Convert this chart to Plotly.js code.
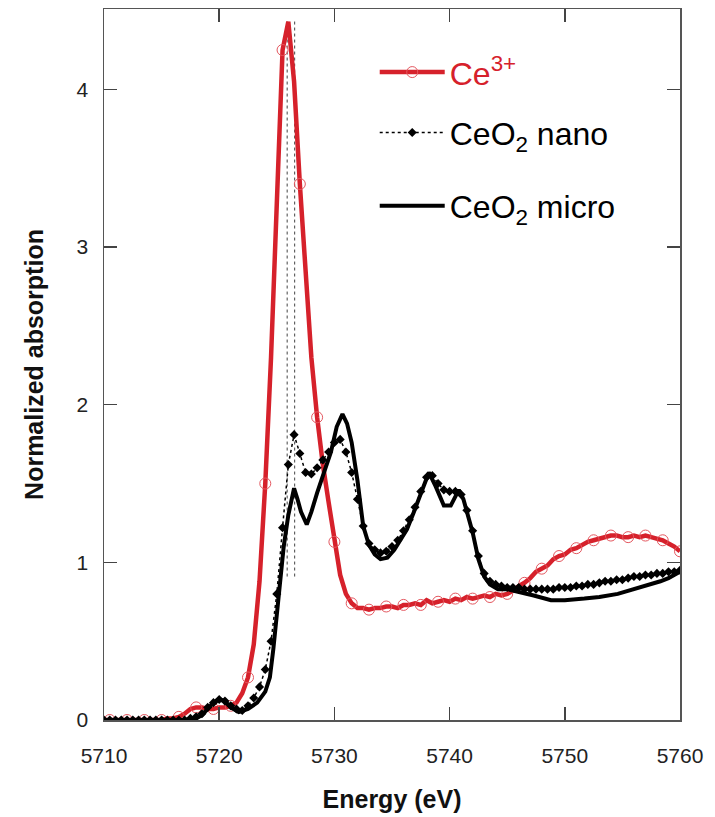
<!DOCTYPE html>
<html>
<head>
<meta charset="utf-8">
<script src="https://cdn.plot.ly/plotly-3.0.1.min.js"></script>
<style>html,body{margin:0;padding:0;background:#fff;}#chart{width:715px;height:817px;}</style>
</head>
<body>
<div id="chart"></div>
<script>
// Ce3+ reference (0.5 eV steps from 5710)
const energyCe = [];
for (let i = 0; i <= 100; i++) energyCe.push(5710 + 0.5 * i);
const ce3 = [
  0.00,0.00,0.00,0.00,0.00,0.00,0.00,0.00,0.00,0.00,
  0.00,0.01,0.01,0.02,0.04,0.07,0.08,0.08,0.07,0.07,
  0.08,0.08,0.09,0.11,0.17,0.27,0.48,0.88,1.50,2.30,
  3.30,4.25,4.43,4.05,3.40,2.80,2.30,1.92,1.62,1.38,
  1.13,0.92,0.80,0.74,0.71,0.71,0.70,0.71,0.71,0.72,
  0.72,0.71,0.73,0.73,0.74,0.73,0.76,0.74,0.75,0.76,
  0.75,0.77,0.76,0.78,0.77,0.78,0.79,0.78,0.80,0.79,
  0.80,0.82,0.85,0.87,0.90,0.94,0.96,0.98,1.02,1.04,
  1.05,1.08,1.09,1.11,1.13,1.14,1.15,1.16,1.17,1.17,
  1.16,1.16,1.17,1.16,1.17,1.16,1.15,1.14,1.12,1.10,
  1.07
];

// CeO2 nano (0.5 eV steps from 5710)
const energyNano = energyCe.slice();
const ceo2Nano = [
  0.00,0.00,0.00,0.00,0.00,0.00,0.00,0.00,0.00,0.00,
  0.00,0.00,0.00,0.00,0.00,0.01,0.02,0.04,0.08,0.11,
  0.13,0.12,0.09,0.07,0.06,0.09,0.14,0.21,0.32,0.50,
  0.80,1.22,1.62,1.81,1.69,1.57,1.56,1.60,1.65,1.70,
  1.76,1.78,1.70,1.57,1.40,1.23,1.12,1.08,1.06,1.07,
  1.10,1.14,1.20,1.27,1.35,1.45,1.54,1.55,1.50,1.46,
  1.45,1.45,1.43,1.33,1.20,1.04,0.93,0.88,0.86,0.85,
  0.84,0.84,0.84,0.83,0.83,0.83,0.83,0.83,0.83,0.84,
  0.84,0.84,0.85,0.85,0.86,0.86,0.87,0.88,0.88,0.89,
  0.89,0.90,0.91,0.91,0.92,0.92,0.93,0.93,0.94,0.94,
  0.95
];

// CeO2 micro
const energyMicro = [5710,5712,5714,5716,5717,5718,5718.5,5719,5719.5,5720,5720.5,5721,5721.7,5722.5,5723.3,5724,5724.4,5724.7,5725.0,5725.3,5725.6,5726.0,5726.2,5726.5,5726.8,5727.1,5727.6,5728.0,5728.5,5729.1,5729.7,5730.2,5730.7,5731.1,5731.5,5732.0,5732.5,5733.0,5733.5,5734.0,5734.6,5735.2,5735.8,5736.3,5736.9,5737.5,5738.2,5738.8,5739.5,5740.1,5740.8,5741.2,5741.6,5742.0,5742.5,5743.0,5743.5,5744.2,5745,5746.2,5747.3,5748.8,5750,5751.7,5753,5754.6,5755.5,5756.6,5757.5,5758.3,5759,5759.8,5760];
const ceo2Micro = [0,0,0,0,0.00,0.01,0.03,0.07,0.11,0.13,0.12,0.08,0.05,0.07,0.11,0.18,0.27,0.45,0.68,0.92,1.10,1.30,1.38,1.47,1.40,1.32,1.24,1.32,1.44,1.57,1.70,1.86,1.94,1.88,1.76,1.52,1.23,1.11,1.05,1.02,1.03,1.08,1.15,1.21,1.32,1.44,1.57,1.48,1.36,1.36,1.46,1.40,1.30,1.19,1.02,0.91,0.86,0.83,0.83,0.81,0.79,0.76,0.76,0.77,0.78,0.80,0.82,0.84,0.86,0.88,0.90,0.93,0.94];

// Dotted guide lines (energy positions and vertical extent)
const guideEnergies = [5725.9, 5726.55];
const guideY = [0.91, 4.44];

const tickVals = [5710,5720,5730,5740,5750,5760];
const yTickVals = [0,1,2,3,4];

const RED = '#d6212b';
const font = 'Liberation Sans, Arial, sans-serif';

const ceMarkE = energyCe.filter((_, i) => i % 3 === 1);
const ceMarkY = ce3.filter((_, i) => i % 3 === 1);

const traces = [];
guideEnergies.forEach(e => traces.push({
  x: [e, e], y: guideY, mode: 'lines', showlegend: false, hoverinfo: 'skip',
  line: {color: '#444', width: 1, dash: 'dot'}
}));
traces.push({x: energyCe, y: ce3, mode: 'lines', showlegend: false,
  line: {color: RED, width: 4.5}});
traces.push({x: ceMarkE, y: ceMarkY, mode: 'markers', showlegend: false,
  marker: {symbol: 'circle-open', size: 11, color: '#e4575f', line: {width: 1, color: '#e4575f'}}});
traces.push({x: [null], y: [null], mode: 'lines+markers', legend: 'legend',
  name: '<span style="color:' + RED + '">Ce<sup>3+</sup></span>',
  line: {color: RED, width: 4.5},
  marker: {symbol: 'circle-open', size: 11, color: '#e4575f', line: {width: 1, color: '#e4575f'}}});
traces.push({x: energyNano, y: ceo2Nano, mode: 'lines+markers', name: 'CeO<sub>2</sub> nano', legend: 'legend2',
  line: {color: '#000', width: 1.5, dash: 'dot'},
  marker: {symbol: 'diamond', size: 7, color: '#000'}});
traces.push({x: energyMicro, y: ceo2Micro, mode: 'lines', name: 'CeO<sub>2</sub> micro', legend: 'legend3',
  line: {color: '#000', width: 4}});

const legendBase = {x: 0.47, xanchor: 'left', yanchor: 'middle',
  font: {family: font, size: 32, color: '#000'},
  bgcolor: 'rgba(0,0,0,0)', itemwidth: 65};

const layout = {
  width: 715, height: 817,
  margin: {l: 104, r: 35, t: 9, b: 97},
  paper_bgcolor: '#fff', plot_bgcolor: '#fff',
  font: {family: font, color: '#222', size: 21},
  showlegend: true,
  legend: Object.assign({}, legendBase, {y: 0.911}),
  legend2: Object.assign({}, legendBase, {y: 0.826}),
  legend3: Object.assign({}, legendBase, {y: 0.723}),
  xaxis: {
    range: [5710, 5760], tickvals: tickVals, ticks: 'inside', ticklen: 13, tickwidth: 1.5,
    tickcolor: '#444', showline: true, linecolor: '#555', linewidth: 1.5, mirror: 'ticks',
    showgrid: false, zeroline: false, ticklabelstandoff: 16,
    tickfont: {family: font, size: 21, color: '#222'},
    title: {text: '<b>Energy (eV)</b>', font: {family: font, size: 25, color: '#111'}, standoff: 25}
  },
  yaxis: {
    range: [0, 4.51], tickvals: yTickVals, ticks: 'inside', ticklen: 13, tickwidth: 1.5,
    tickcolor: '#444', showline: true, linecolor: '#555', linewidth: 1.5, mirror: 'ticks',
    showgrid: false, zeroline: false, ticklabelstandoff: 10,
    tickfont: {family: font, size: 21, color: '#222'},
    title: {text: '<b>Normalized absorption</b>', font: {family: font, size: 25, color: '#111'}, standoff: 26}
  }
};

Plotly.newPlot('chart', traces, layout, {displayModeBar: false, staticPlot: true});
</script>
</body>
</html>
